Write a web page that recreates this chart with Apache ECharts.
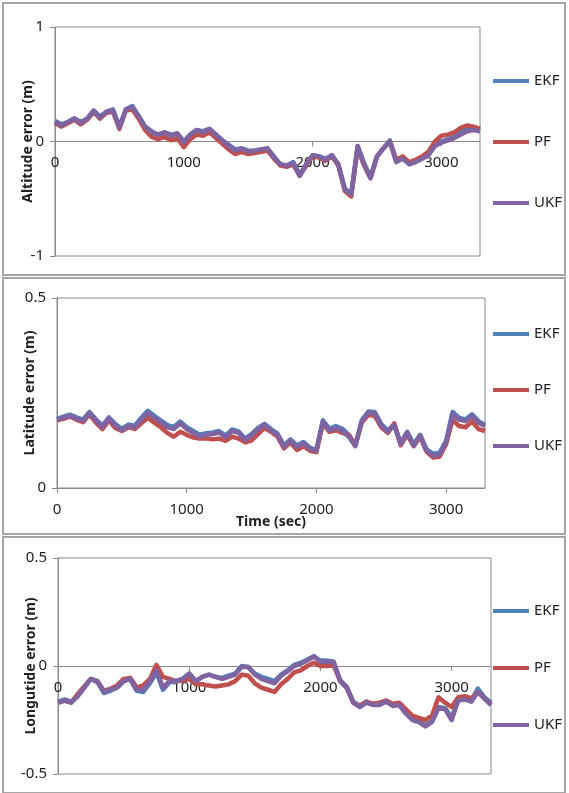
<!DOCTYPE html>
<html>
<head>
<meta charset="utf-8">
<title>Position error EKF / PF / UKF</title>
<script src="https://cdn.jsdelivr.net/npm/echarts@6/dist/echarts.min.js"></script>
<style>
  html, body { margin: 0; padding: 0; background: #fff; }
  #chart { width: 569px; height: 793px; }
</style>
</head>
<body>
<div id="chart"></div>
<script>
  // sample times (sec)
  const TIME = [0, 50, 100, 150, 200, 250, 300, 350, 400, 450, 500, 550, 600, 650, 700, 750, 800, 850, 900, 950,
    1000, 1050, 1100, 1150, 1200, 1250, 1300, 1350, 1400, 1450, 1500, 1550, 1600, 1650, 1700, 1750, 1800, 1850, 1900, 1950,
    2000, 2050, 2100, 2150, 2200, 2250, 2300, 2350, 2400, 2450, 2500, 2550, 2600, 2650, 2700, 2750, 2800, 2850, 2900, 2950,
    3000, 3050, 3100, 3150, 3200, 3250, 3300];
  const X_TICKS = [0, 1000, 2000, 3000];
  const NAMES = ['EKF', 'PF', 'UKF'];

  // altitude error (m)
  const ALT_EKF = [0.18, 0.15, 0.17, 0.2, 0.17, 0.2, 0.27, 0.22, 0.26, 0.28, 0.13, 0.28, 0.31, 0.22, 0.13, 0.09, 0.06, 0.08, 0.06, 0.07,
    0.0, 0.06, 0.1, 0.09, 0.11, 0.06, 0.01, -0.03, -0.07, -0.06, -0.08, -0.08, -0.07, -0.06, -0.13, -0.2, -0.21, -0.18, -0.29, -0.2,
    -0.12, -0.13, -0.15, -0.12, -0.2, -0.41, -0.46, -0.04, -0.19, -0.31, -0.13, -0.06, 0.01, -0.17, -0.14, -0.19, -0.17, -0.14, -0.11, -0.03,
    0.0, 0.02, 0.04, 0.08, 0.11, 0.12, 0.1];
  const ALT_PF = [0.16, 0.13, 0.16, 0.19, 0.15, 0.19, 0.26, 0.2, 0.25, 0.26, 0.11, 0.27, 0.28, 0.2, 0.1, 0.04, 0.02, 0.04, 0.01, 0.03,
    -0.05, 0.02, 0.06, 0.05, 0.08, 0.03, -0.02, -0.07, -0.11, -0.09, -0.11, -0.1, -0.09, -0.08, -0.15, -0.21, -0.22, -0.2, -0.3, -0.21,
    -0.13, -0.14, -0.17, -0.13, -0.21, -0.43, -0.48, -0.06, -0.21, -0.32, -0.13, -0.06, 0.0, -0.16, -0.13, -0.18, -0.16, -0.13, -0.09, 0.0,
    0.05, 0.06, 0.08, 0.12, 0.14, 0.13, 0.11];
  const ALT_UKF = [0.17, 0.14, 0.17, 0.2, 0.16, 0.2, 0.27, 0.21, 0.26, 0.27, 0.12, 0.28, 0.3, 0.22, 0.13, 0.08, 0.06, 0.08, 0.05, 0.07,
    -0.01, 0.06, 0.1, 0.08, 0.11, 0.06, 0.01, -0.04, -0.08, -0.06, -0.09, -0.08, -0.07, -0.06, -0.14, -0.2, -0.21, -0.19, -0.3, -0.2,
    -0.12, -0.13, -0.16, -0.12, -0.2, -0.42, -0.46, -0.04, -0.2, -0.32, -0.13, -0.06, 0.0, -0.18, -0.15, -0.2, -0.18, -0.15, -0.12, -0.04,
    -0.01, 0.01, 0.03, 0.06, 0.09, 0.1, 0.09];

  // latitude error (m)
  const LAT_EKF = [0.182, 0.188, 0.193, 0.186, 0.18, 0.2, 0.181, 0.164, 0.186, 0.168, 0.156, 0.167, 0.164, 0.185, 0.203, 0.19, 0.178, 0.166, 0.16, 0.175,
    0.16, 0.15, 0.14, 0.144, 0.146, 0.15, 0.138, 0.154, 0.149, 0.13, 0.142, 0.158, 0.169, 0.155, 0.143, 0.112, 0.128, 0.112, 0.121, 0.106,
    0.1, 0.178, 0.156, 0.163, 0.156, 0.14, 0.113, 0.178, 0.201, 0.2, 0.168, 0.151, 0.168, 0.118, 0.148, 0.115, 0.14, 0.102, 0.09, 0.093,
    0.124, 0.2, 0.185, 0.18, 0.194, 0.176, 0.166];
  const LAT_PF = [0.178, 0.182, 0.188, 0.18, 0.173, 0.193, 0.172, 0.155, 0.178, 0.158, 0.15, 0.16, 0.155, 0.17, 0.185, 0.172, 0.16, 0.145, 0.135, 0.148,
    0.14, 0.133, 0.13, 0.13, 0.128, 0.13, 0.124, 0.135, 0.13, 0.12, 0.125, 0.142, 0.158, 0.148, 0.135, 0.104, 0.12, 0.1, 0.11, 0.098,
    0.094, 0.17, 0.148, 0.152, 0.145, 0.14, 0.112, 0.172, 0.192, 0.19, 0.16, 0.145, 0.17, 0.112, 0.14, 0.11, 0.135, 0.095, 0.08, 0.082,
    0.115, 0.18, 0.163, 0.16, 0.175, 0.155, 0.15];
  const LAT_UKF = [0.18, 0.185, 0.19, 0.183, 0.177, 0.197, 0.178, 0.16, 0.183, 0.165, 0.152, 0.163, 0.16, 0.18, 0.198, 0.185, 0.173, 0.16, 0.155, 0.17,
    0.155, 0.145, 0.135, 0.14, 0.142, 0.146, 0.134, 0.15, 0.145, 0.127, 0.138, 0.155, 0.166, 0.152, 0.14, 0.108, 0.125, 0.108, 0.118, 0.103,
    0.098, 0.175, 0.152, 0.158, 0.15, 0.135, 0.11, 0.175, 0.198, 0.197, 0.165, 0.148, 0.165, 0.115, 0.145, 0.112, 0.138, 0.098, 0.085, 0.088,
    0.12, 0.195, 0.18, 0.176, 0.19, 0.172, 0.163];

  // longitude error (m)
  const LON_EKF = [-0.165, -0.155, -0.165, -0.14, -0.1, -0.06, -0.075, -0.125, -0.115, -0.1, -0.07, -0.06, -0.115, -0.12, -0.08, -0.03, -0.11, -0.075, -0.07, -0.06,
    -0.035, -0.07, -0.05, -0.04, -0.05, -0.055, -0.045, -0.035, 0.0, -0.005, -0.035, -0.05, -0.06, -0.07, -0.04, -0.02, 0.005, 0.015, 0.03, 0.045,
    0.025, 0.025, 0.02, -0.065, -0.095, -0.165, -0.185, -0.165, -0.175, -0.175, -0.16, -0.18, -0.175, -0.215, -0.245, -0.255, -0.275, -0.255, -0.19, -0.195,
    -0.24, -0.155, -0.15, -0.16, -0.105, -0.145, -0.17];
  const LON_PF = [-0.17, -0.16, -0.17, -0.13, -0.095, -0.06, -0.07, -0.115, -0.105, -0.09, -0.06, -0.055, -0.1, -0.09, -0.06, 0.005, -0.05, -0.06, -0.07, -0.07,
    -0.06, -0.085, -0.085, -0.09, -0.095, -0.09, -0.085, -0.07, -0.04, -0.045, -0.08, -0.1, -0.11, -0.12, -0.085, -0.06, -0.03, -0.02, 0.0, 0.015,
    0.0, 0.0, 0.005, -0.07, -0.1, -0.17, -0.185, -0.165, -0.175, -0.17, -0.16, -0.175, -0.17, -0.2, -0.23, -0.24, -0.25, -0.23, -0.145, -0.17,
    -0.19, -0.145, -0.14, -0.15, -0.12, -0.15, -0.18];
  const LON_UKF = [-0.17, -0.16, -0.17, -0.14, -0.1, -0.06, -0.07, -0.12, -0.11, -0.1, -0.07, -0.06, -0.11, -0.11, -0.07, -0.02, -0.1, -0.07, -0.07, -0.06,
    -0.035, -0.07, -0.05, -0.04, -0.05, -0.06, -0.05, -0.04, -0.005, -0.005, -0.04, -0.06, -0.07, -0.08, -0.045, -0.025, 0.0, 0.01, 0.025, 0.045,
    0.02, 0.02, 0.02, -0.07, -0.1, -0.17, -0.19, -0.17, -0.18, -0.18, -0.165, -0.185, -0.18, -0.22, -0.25, -0.26, -0.28, -0.26, -0.195, -0.2,
    -0.25, -0.16, -0.155, -0.165, -0.12, -0.15, -0.18];

  const COLORS = ['#4F81BD', '#C0504D', '#8064A2'];
  const FONT = 'Noto Sans';

  // one entry per stacked panel
  const panels = [
    {
      title: 'Altitude error (m)', series: [ALT_EKF, ALT_PF, ALT_UKF], min: -1, max: 1, interval: 1,
      grid: {left: 55, top: 27, width: 425, height: 229}, legendTop: 73, legendGap: 45, frame: [3, 3, 562, 272]
    },
    {
      title: 'Latitude error (m)', series: [LAT_EKF, LAT_PF, LAT_UKF], min: 0, max: 0.5, interval: 0.5,
      grid: {left: 57, top: 298, width: 428, height: 190}, legendTop: 326, legendGap: 40, frame: [3, 278, 562, 256],
      xName: 'Time (sec)'
    },
    {
      title: 'Longutide error (m)', series: [LON_EKF, LON_PF, LON_UKF], min: -0.5, max: 0.5, interval: 0.5,
      grid: {left: 58, top: 558, width: 433, height: 216}, legendTop: 603, legendGap: 41, frame: [3, 537, 562, 256]
    }
  ];

  function toPairs(values) {
    return TIME.map((t, i) => [t, values[i]]);
  }

  let grid = [], xAxis = [], yAxis = [], legend = [], series = [], graphic = [];
  panels.forEach((p, k) => {
    grid.push(Object.assign({show: true, borderColor: '#8a8a8a', borderWidth: 1, backgroundColor: '#fff'}, p.grid));
    // Excel draws the time axis (labels too) where value = 0 crosses
    let zeroShift = -p.grid.height * (0 - p.min) / (p.max - p.min);
    xAxis.push({
      type: 'value', gridIndex: k, min: 0, max: 3300, interval: 1000,
      position: 'bottom', offset: zeroShift,
      name: p.xName || '', nameLocation: 'middle', nameGap: 27, nameMoveOverlap: false,
      nameTextStyle: {fontFamily: FONT, fontSize: 14, fontWeight: 'bold', color: '#222'},
      axisLine: {onZero: false, lineStyle: {color: '#8a8a8a', width: 1}},
      axisTick: {show: true, length: 5, lineStyle: {color: '#8a8a8a'}, customValues: X_TICKS},
      axisLabel: {fontFamily: FONT, fontSize: 15, color: '#222', margin: 14,
        customValues: X_TICKS, formatter: v => String(v)},
      splitLine: {show: false}
    });
    yAxis.push({
      type: 'value', gridIndex: k, min: p.min, max: p.max, interval: p.interval,
      name: p.title, nameLocation: 'middle', nameGap: 20, nameRotate: 90, nameMoveOverlap: false,
      nameTextStyle: {fontFamily: FONT, fontSize: 14, fontWeight: 'bold', color: '#222'},
      axisLine: {show: true, onZero: false, lineStyle: {color: '#8a8a8a', width: 1}},
      axisTick: {show: true, length: 5, lineStyle: {color: '#8a8a8a'}},
      axisLabel: {fontFamily: FONT, fontSize: 15, color: '#222', margin: 11},
      splitLine: {show: false}
    });
    legend.push({
      data: NAMES, orient: 'vertical', left: 493, top: p.legendTop, itemGap: p.legendGap, padding: 0,
      icon: 'rect', itemWidth: 36, itemHeight: 4,
      textStyle: {fontFamily: FONT, fontSize: 15, color: '#222', lineHeight: 16}
    });
    p.series.forEach((vals, j) => {
      series.push({
        name: NAMES[j], type: 'line', xAxisIndex: k, yAxisIndex: k,
        data: toPairs(vals), showSymbol: false, smooth: false, z: 2 + j,
        lineStyle: {color: COLORS[j], width: 4.5, join: 'round'},
        itemStyle: {color: COLORS[j]}
      });
    });
    graphic.push({
      type: 'rect', silent: true, z: -10,
      shape: {x: p.frame[0], y: p.frame[1], width: p.frame[2], height: p.frame[3]},
      style: {fill: null, stroke: '#a6a6a6', lineWidth: 2}
    });
  });

  let myChart = echarts.init(document.getElementById('chart'), null, {renderer: 'canvas'});
  myChart.setOption({
    animation: false,
    backgroundColor: '#fff',
    grid: grid,
    xAxis: xAxis,
    yAxis: yAxis,
    legend: legend,
    graphic: graphic,
    series: series
  });
</script>
</body>
</html>
